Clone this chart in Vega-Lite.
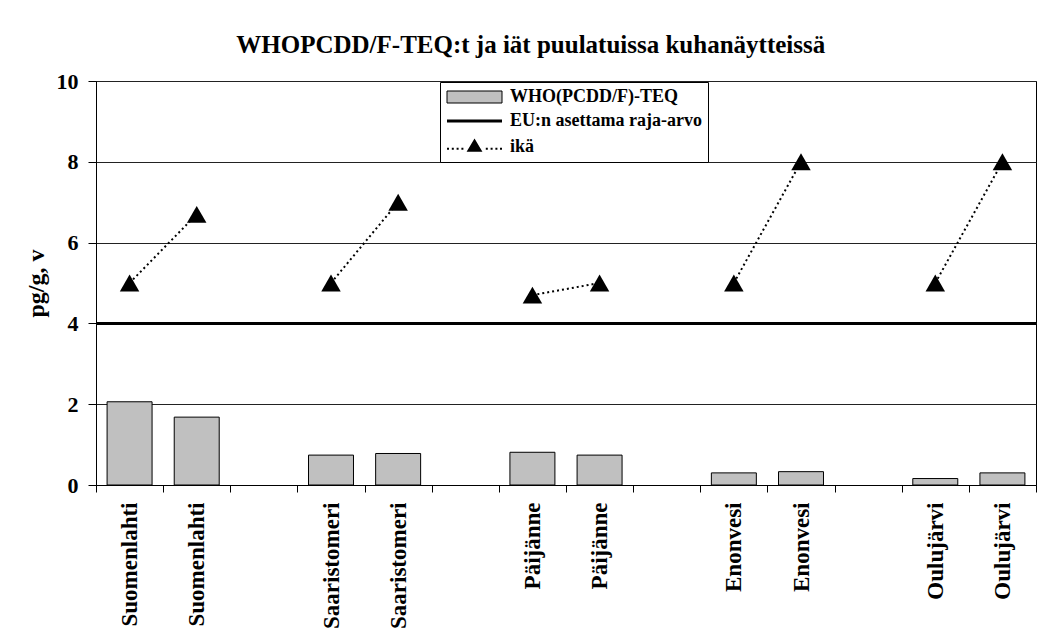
{
  "$schema": "https://vega.github.io/schema/vega-lite/v6.json",
  "width": 940,
  "height": 404,
  "autosize": {"type": "none"},
  "padding": {"left": 96, "top": 81, "right": 2, "bottom": 146},
  "background": "white",
  "title": {
    "text": "WHOPCDD/F-TEQ:t ja iät puulatuissa kuhanäytteissä",
    "font": "Liberation Serif, Times New Roman, serif",
    "fontSize": 25,
    "fontWeight": "bold",
    "color": "black",
    "anchor": "middle",
    "frame": "bounds",
    "offset": 12
  },
  "config": {
    "view": {"stroke": "black", "strokeWidth": 1},
    "axis": {
      "labelFont": "Liberation Serif, Times New Roman, serif",
      "labelFontWeight": "bold",
      "labelColor": "black",
      "titleFont": "Liberation Serif, Times New Roman, serif",
      "titleFontWeight": "bold",
      "titleColor": "black",
      "domainColor": "black",
      "tickColor": "black"
    },
    "legend": {
      "title": null,
      "orient": "none",
      "legendX": 344,
      "legendY": 1,
      "fillColor": "white",
      "strokeColor": "black",
      "padding": 6,
      "symbolSize": 256,
      "symbolStrokeWidth": 1,
      "symbolOpacity": 1,
      "labelFont": "Liberation Serif, Times New Roman, serif",
      "labelFontSize": 18,
      "labelFontWeight": "bold",
      "labelColor": "black",
      "labelOffset": 46,
      "labelLimit": 400,
      "rowPadding": 6
    }
  },
  "data": {
    "values": [
      {"slot": "Suomenlahti 1", "site": "Suomenlahti", "teq": 2.06, "age": 5.0},
      {"slot": "Suomenlahti 2", "site": "Suomenlahti", "teq": 1.68, "age": 6.7},
      {"slot": "Saaristomeri 1", "site": "Saaristomeri", "teq": 0.74, "age": 5.0},
      {"slot": "Saaristomeri 2", "site": "Saaristomeri", "teq": 0.78, "age": 7.0},
      {"slot": "Päijänne 1", "site": "Päijänne", "teq": 0.81, "age": 4.7},
      {"slot": "Päijänne 2", "site": "Päijänne", "teq": 0.74, "age": 5.0},
      {"slot": "Enonvesi 1", "site": "Enonvesi", "teq": 0.30, "age": 5.0},
      {"slot": "Enonvesi 2", "site": "Enonvesi", "teq": 0.33, "age": 8.0},
      {"slot": "Oulujärvi 1", "site": "Oulujärvi", "teq": 0.16, "age": 5.0},
      {"slot": "Oulujärvi 2", "site": "Oulujärvi", "teq": 0.30, "age": 8.0}
    ]
  },
  "layer": [
    {
      "mark": {"type": "bar", "fill": "#c0c0c0", "stroke": "black", "strokeWidth": 1, "width": {"band": 0.67}},
      "encoding": {
        "x": {
          "field": "slot",
          "type": "ordinal",
          "scale": {
            "domain": ["Suomenlahti 1", "Suomenlahti 2", "gap 1", "Saaristomeri 1", "Saaristomeri 2", "gap 2", "Päijänne 1", "Päijänne 2", "gap 3", "Enonvesi 1", "Enonvesi 2", "gap 4", "Oulujärvi 1", "Oulujärvi 2"],
            "paddingInner": 0,
            "paddingOuter": 0
          },
          "axis": {
            "title": null,
            "labelAngle": -90,
            "labelAlign": "right",
            "labelBaseline": "middle",
            "labelExpr": "isString(datum.value) && indexof(datum.value, 'gap') < 0 ? split(datum.value, ' ')[0] : ''",
            "labelFontSize": 23,
            "labelPadding": 10,
            "labelOverlap": false,
            "tickBand": "extent",
            "tickSize": 7,
            "grid": false
          }
        },
        "y": {
          "field": "teq",
          "type": "quantitative",
          "scale": {"domain": [0, 10], "nice": false},
          "axis": {
            "title": "pg/g, v",
            "values": [0, 2, 4, 6, 8, 10],
            "grid": true,
            "gridColor": "#222222",
            "gridWidth": 1,
            "gridOpacity": 1,
            "tickSize": 8,
            "labelFontSize": 22,
            "labelPadding": 10,
            "titleFontSize": 24,
            "titlePadding": 8
          }
        }
      }
    },
    {
      "data": {"values": [{"limit": 4}]},
      "mark": {"type": "rule", "stroke": "black", "strokeWidth": 3},
      "encoding": {
        "y": {"field": "limit", "type": "quantitative"}
      }
    },
    {
      "mark": {"type": "line", "stroke": "black", "strokeWidth": 2, "strokeDash": [2, 3]},
      "encoding": {
        "x": {"field": "slot", "type": "ordinal"},
        "y": {"field": "age", "type": "quantitative"},
        "detail": {"field": "site"}
      }
    },
    {
      "mark": {"type": "point", "shape": "triangle-up", "filled": true, "fill": "black", "opacity": 1, "size": 380},
      "encoding": {
        "x": {"field": "slot", "type": "ordinal"},
        "y": {"field": "age", "type": "quantitative"}
      }
    },
    {
      "mark": {"type": "point", "filled": true, "opacity": 0, "size": 10},
      "encoding": {
        "x": {"field": "slot", "type": "ordinal"},
        "y": {"field": "age", "type": "quantitative"},
        "fill": {
          "datum": "ikä",
          "type": "nominal",
          "scale": {
            "domain": ["WHO(PCDD/F)-TEQ", "EU:n asettama raja-arvo", "ikä"],
            "range": ["#c0c0c0", "black", "black"]
          },
          "legend": {"title": null}
        },
        "stroke": {
          "datum": "ikä",
          "type": "nominal",
          "scale": {
            "domain": ["WHO(PCDD/F)-TEQ", "EU:n asettama raja-arvo", "ikä"],
            "range": ["black", "transparent", "transparent"]
          },
          "legend": {"title": null}
        },
        "shape": {
          "datum": "ikä",
          "type": "nominal",
          "scale": {
            "domain": ["WHO(PCDD/F)-TEQ", "EU:n asettama raja-arvo", "ikä"],
            "range": [
              "M-1,-0.75L5.875,-0.75L5.875,0.75L-1,0.75Z",
              "M-1,-0.19L5.875,-0.19L5.875,0.19L-1,0.19Z",
              "M-1,0.1L-0.75,0.1L-0.75,0.35L-1,0.35Z M-0.4,0.1L-0.15,0.1L-0.15,0.35L-0.4,0.35Z M0.2,0.1L0.45,0.1L0.45,0.35L0.2,0.35Z M0.8,0.1L1.05,0.1L1.05,0.35L0.8,0.35Z M1.45,0.6L2.44,-1.05L3.43,0.6Z M3.85,0.1L4.1,0.1L4.1,0.35L3.85,0.35Z M4.45,0.1L4.7,0.1L4.7,0.35L4.45,0.35Z M5.05,0.1L5.3,0.1L5.3,0.35L5.05,0.35Z M5.625,0.1L5.875,0.1L5.875,0.35L5.625,0.35Z"
            ]
          },
          "legend": {"title": null}
        }
      }
    }
  ]
}
